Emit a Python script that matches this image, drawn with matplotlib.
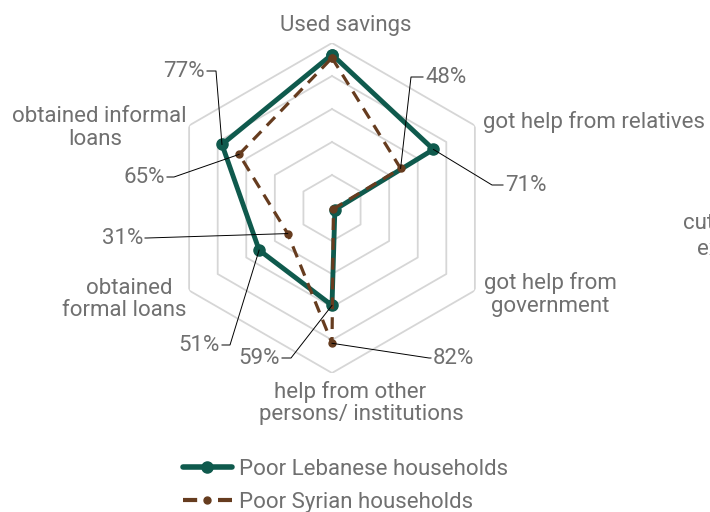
import numpy as np
import matplotlib.pyplot as plt
from matplotlib.lines import Line2D
from matplotlib.transforms import IdentityTransform

plt.rcParams['font.family'] = ['Roboto', 'DejaVu Sans']

# Data
categories = ["Used savings", "got help from relatives", "got help from\ngovernment",
              "help from other\npersons/ institutions", "obtained\nformal loans",
              "obtained informal\nloans"]
lebanese = [93, 71, 2, 59, 51, 77]
syrian = [91, 48, 1, 82, 31, 65]
ring_levels = [20, 40, 60, 80, 100]

GREEN = "#0f5a4d"
BROWN = "#663c1f"
GRAY = "#707070"
FS = 16

W, H = 710, 512
fig = plt.figure(figsize=(W / 100, H / 100), dpi=100)
cx, cy, R = 332, 208, 165
ax = fig.add_axes([(cx - R) / W, (H - cy - R) / H, 2 * R / W, 2 * R / H], projection='polar')
ax.set_theta_offset(np.pi / 2)
ax.set_theta_direction(-1)
ax.set_ylim(0, 100)
ax.axis('off')

angles = np.linspace(0, 2 * np.pi, len(categories), endpoint=False)
closed = np.append(angles, angles[0])

# hexagon grid
for lvl in ring_levels:
    ax.plot(closed, [lvl] * len(closed), color='#d6d6d6', lw=1.3, zorder=1)

ax.plot(closed, lebanese + lebanese[:1], color=GREEN, lw=3.5, marker='o', ms=8,
        solid_joinstyle='round', zorder=3)
ax.plot(closed, syrian + syrian[:1], color=BROWN, lw=2.3, ls=(0, (3.7, 2.5)), marker='o',
        ms=5, dash_capstyle='butt', zorder=4)

# axis labels: one (x, baseline, ha) per text line, pixels from top-left
label_pos = [[(346, 31, 'center')],
             [(483, 128, 'left')],
             [(550, 289, 'center'), (550, 312, 'center')],
             [(350, 398, 'center'), (361, 420, 'center')],
             [(129, 294, 'center'), (124, 316, 'center')],
             [(99, 122, 'center'), (95, 145, 'center')]]
for name, lines in zip(categories, label_pos):
    for part, (x, y, ha) in zip(name.split("\n"), lines):
        fig.text(x / W, 1 - y / H, part, ha=ha, va='baseline', fontsize=FS, color=GRAY)

# value labels with leader lines: (series, index, text x, baseline, ha, elbow x)
callouts = [(lebanese, 5, 205, 77, 'right', 216),
            (syrian, 5, 165, 183, 'right', 174),
            (syrian, 4, 143, 244, 'right', 147),
            (lebanese, 4, 220, 351, 'right', 230),
            (lebanese, 3, 280, 364, 'right', 291),
            (syrian, 3, 433, 364, 'left', 429),
            (lebanese, 1, 505, 191, 'left', 492),
            (syrian, 1, 425, 83, 'left', 411)]
for series, i, tx, ty, ha, ex in callouts:
    fig.text(tx / W, 1 - ty / H, f"{series[i]}%", ha=ha, va='baseline', fontsize=FS, color=GRAY)
    px, py = ax.transData.transform((angles[i], series[i]))
    start = tx + 2 if ha == 'right' else tx - 2
    ly = H - (ty - 6)
    fig.add_artist(Line2D([start, ex, px], [ly, ly, py], color='black', lw=0.7,
                          transform=IdentityTransform(), zorder=5))

# neighbouring chart label, cut off by the right edge as in the source
fig.text(683 / W, 1 - 229 / H, "cut down on", ha='left', va='baseline', fontsize=FS, color=GRAY)
fig.text(697 / W, 1 - 255 / H, "expenses", ha='left', va='baseline', fontsize=FS, color=GRAY)

handles = [Line2D([], [], color=GREEN, lw=4, marker='o', ms=8, solid_capstyle='round'),
           Line2D([], [], color=BROWN, lw=3, ls=(0, (3.4, 5.0)), marker='o', ms=5)]
fig.legend(handles, ["Poor Lebanese households", "Poor Syrian households"],
           loc='upper left', bbox_to_anchor=(183 / W, 1 - 459 / H), frameon=False,
           fontsize=FS, labelcolor=GRAY, handlelength=2.2, handletextpad=0.3,
           borderpad=0, borderaxespad=0, labelspacing=0.55)

fig.savefig("out.png", dpi=100)
